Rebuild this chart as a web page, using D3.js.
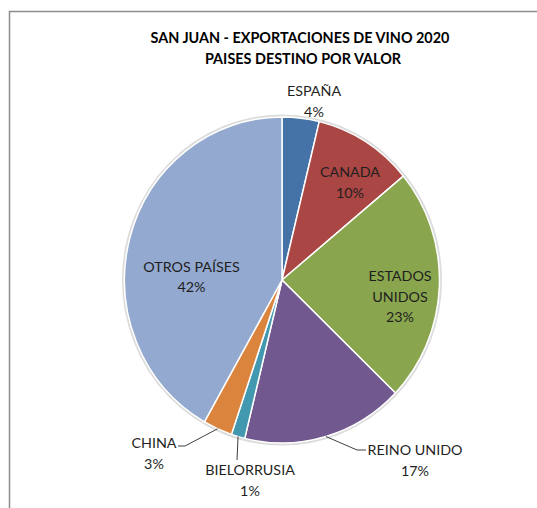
<!DOCTYPE html>
<html>
<head>
<meta charset="utf-8">
<script src="https://cdn.jsdelivr.net/npm/d3@7"></script>
<style>
  html, body { margin: 0; padding: 0; background: #fff; }
  svg { display: block; }
</style>
</head>
<body>
<svg id="chart" width="537" height="508"></svg>
<script>
// ---- Data ----
const categories = ["ESPAÑA", "CANADA", "ESTADOS UNIDOS", "REINO UNIDO", "BIELORRUSIA", "CHINA", "OTROS PAÍSES"];
const values = [3.8, 10.2, 23.2, 16.6, 1.4, 3.0, 41.8];
const colors = ["#4572A7", "#AA4643", "#89A54E", "#71588F", "#4198AF", "#DB843D", "#93A9CF"];
const titleLines = ["SAN JUAN - EXPORTACIONES DE VINO 2020", "PAISES DESTINO POR VALOR"];

// ---- Layout (not data) ----
const W = 537, H = 508;
const cx = 282, cy = 280, rx = 157.5, ry = 163;
const R = 160;
const FONT = "Lato, 'Open Sans', sans-serif";
const labelLayout = [
  { lines: ["ESPAÑA"], x: 314, y: 96 },
  { lines: ["CANADA"], x: 350, y: 177 },
  { lines: ["ESTADOS", "UNIDOS"], x: 400, y: 281 },
  { lines: ["REINO UNIDO"], x: 415, y: 455, leader: { elbow: [357, 450], end: [366, 450] } },
  { lines: ["BIELORRUSIA"], x: 250, y: 475, leader: { elbow: [237, 460], end: [237, 460] } },
  { lines: ["CHINA"], x: 154, y: 448, leader: { elbow: [185, 446], end: [178, 446] } },
  { lines: ["OTROS PAÍSES"], x: 191.5, y: 271.5 }
];
const lineGap = 20.5;

const svg = d3.select("#chart");

svg.append("path")
  .attr("d", `M9.5,${H} L9.5,11.5 L${W},11.5`)
  .attr("fill", "none")
  .attr("stroke", "#8c8c8c")
  .attr("stroke-width", 1.5);

const title = svg.append("text")
  .attr("text-anchor", "middle")
  .attr("font-family", FONT)
  .attr("font-weight", "bold")
  .attr("font-size", 14.4)
  .attr("fill", "#000");
title.append("tspan").attr("x", 300).attr("y", 43).text(titleLines[0]);
title.append("tspan").attr("x", 303).attr("y", 63.5).text(titleLines[1]);

const pie = d3.pie().sort(null).value(d => d)(values);
const arc = d3.arc().innerRadius(0).outerRadius(R);
const total = d3.sum(values);

const g = svg.append("g").attr("transform", `translate(${cx},${cy}) scale(${rx / R},${ry / R})`);

g.append("circle")
  .attr("r", R + 1)
  .attr("fill", "none")
  .attr("stroke", "#dcdcdc")
  .attr("stroke-width", 3)
  .attr("vector-effect", "non-scaling-stroke");

g.selectAll("path.slice")
  .data(pie)
  .join("path")
  .attr("class", "slice")
  .attr("d", arc)
  .attr("fill", (d, i) => colors[i])
  .attr("stroke", "#fff")
  .attr("stroke-width", 1.5)
  .attr("stroke-linejoin", "round")
  .attr("vector-effect", "non-scaling-stroke");

pie.forEach((d, i) => {
  const L = labelLayout[i].leader;
  if (!L) return;
  const a = (d.startAngle + d.endAngle) / 2;
  const sx = cx + rx * Math.sin(a);
  const sy = cy - ry * Math.cos(a);
  svg.append("path")
    .attr("d", d3.line()([[sx, sy], L.elbow, L.end]))
    .attr("fill", "none")
    .attr("stroke", "#404040")
    .attr("stroke-width", 1);
});

const fmt = v => Math.round(v / total * 100) + "%";
labelLayout.forEach((lab, i) => {
  const t = svg.append("text")
    .attr("text-anchor", "middle")
    .attr("font-family", FONT)
    .attr("font-size", 14.3)
    .attr("fill", "#1f1f1f");
  const lines = lab.lines.concat([fmt(values[i])]);
  lines.forEach((s, k) => {
    t.append("tspan").attr("x", lab.x).attr("y", lab.y + k * lineGap).text(s);
  });
});
</script>
</body>
</html>
